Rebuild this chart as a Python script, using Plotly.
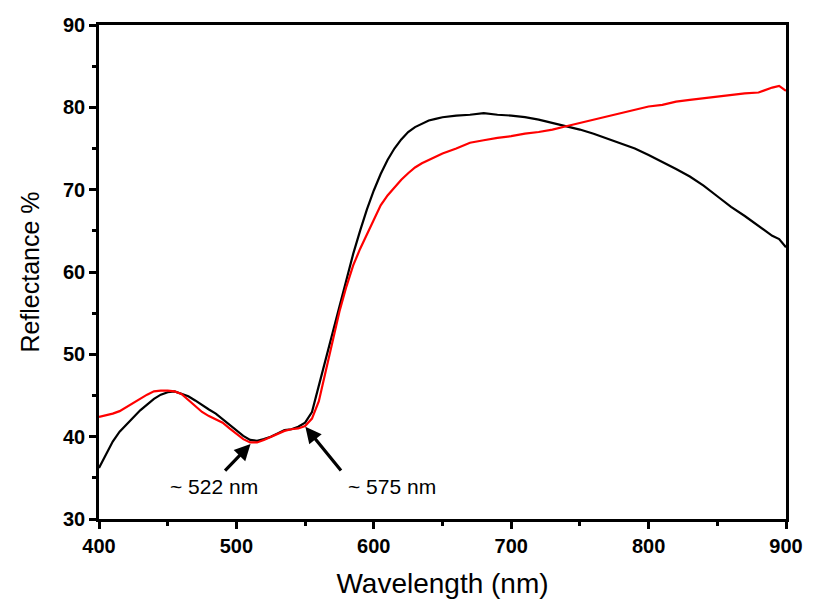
import plotly.graph_objects as go

# wavelength grid (nm) shared by both spectra
wavelength = [
    400, 405, 410, 415, 420, 425, 430, 435, 440, 445, 450, 455, 460, 465, 470,
    475, 480, 485, 490, 495, 500, 505, 510, 515, 520, 525, 530, 535, 540, 545,
    550, 555, 560, 565, 570, 575, 580, 585, 590, 595, 600, 605, 610, 615, 620,
    625, 630, 635, 640, 645, 650, 660, 670, 680, 690, 700, 710, 720, 730, 740,
    750, 760, 770, 780, 790, 800, 810, 820, 830, 840, 850, 860, 870, 880, 890,
    895, 900,
]

reflectance_black = [
    36.2, 37.9, 39.4, 40.6, 41.5, 42.4, 43.2, 43.9, 44.6, 45.1, 45.4, 45.5, 45.2, 44.9, 44.4,
    43.8, 43.3, 42.8, 42.1, 41.4, 40.7, 40.1, 39.6, 39.5, 39.7, 40.0, 40.4, 40.8, 40.9, 41.2,
    41.7, 43.0, 46.2, 49.5, 52.6, 55.8, 59.0, 62.2, 65.0, 67.6, 69.9, 71.9, 73.6, 75.0, 76.1,
    77.0, 77.6, 78.0, 78.4, 78.6, 78.8, 79.0, 79.1, 79.3, 79.1, 79.0, 78.8, 78.5, 78.1, 77.7,
    77.3, 76.8, 76.2, 75.6, 75.0, 74.2, 73.4, 72.5, 71.6, 70.5, 69.2, 67.9, 66.8, 65.6, 64.4,
    64.0, 63.0,
]

reflectance_red = [
    42.4, 42.6, 42.8, 43.1, 43.6, 44.1, 44.7, 45.1, 45.5, 45.6, 45.6, 45.5, 45.2, 44.5, 43.7,
    43.0, 42.5, 42.1, 41.7, 41.0, 40.3, 39.7, 39.3, 39.3, 39.6, 40.0, 40.4, 40.7, 40.9, 41.0,
    41.3, 42.2, 44.3, 47.9, 51.6, 55.2, 58.2, 60.8, 62.8, 64.6, 66.4, 68.1, 69.3, 70.3, 71.2,
    72.0, 72.7, 73.2, 73.6, 74.0, 74.4, 75.0, 75.7, 76.0, 76.3, 76.5, 76.8, 77.0, 77.3, 77.7,
    78.1, 78.5, 78.9, 79.3, 79.7, 80.1, 80.3, 80.7, 80.9, 81.1, 81.3, 81.5, 81.7, 81.8, 82.4,
    82.6, 82.0,
]

# arrow annotations: (label, head x, head y, tail x, tail y, label x, label y)
markers = [
    ("~ 522 nm", 510.3, 39.1, 490.7, 35.7, 483.5, 33.9),
    ("~ 575 nm", 550.2, 41.2, 577.0, 35.7, 613.0, 33.9),
]

FONT = "Liberation Sans, Arial"

fig = go.Figure()
fig.add_trace(
    go.Scatter(
        x=wavelength,
        y=reflectance_black,
        mode="lines",
        line=dict(color="black", width=2.2),
        showlegend=False,
    )
)
fig.add_trace(
    go.Scatter(
        x=wavelength,
        y=reflectance_red,
        mode="lines",
        line=dict(color="#ff0000", width=2.2),
        showlegend=False,
    )
)

annotations = []
for label, hx, hy, tx, ty, lx, ly in markers:
    annotations.append(
        dict(
            x=hx, y=hy, ax=tx, ay=ty,
            xref="x", yref="y", axref="x", ayref="y",
            text="", showarrow=True,
            arrowhead=2, arrowsize=1, arrowwidth=3.2, arrowcolor="black",
        )
    )
    annotations.append(
        dict(
            x=lx, y=ly, xref="x", yref="y",
            text=label, showarrow=False,
            font=dict(family=FONT, size=21, color="black"),
        )
    )

axis_common = dict(
    showline=True,
    linecolor="black",
    linewidth=2.5,
    mirror=True,
    showgrid=False,
    zeroline=False,
    automargin=False,
    ticks="outside",
    ticklen=7,
    tickwidth=2.5,
    tickcolor="black",
    tickfont=dict(family=FONT, size=20, color="black", weight="bold"),
)

fig.update_layout(
    width=823,
    height=612,
    margin=dict(l=91, r=45, t=17, b=101),
    plot_bgcolor="white",
    paper_bgcolor="white",
    annotations=annotations,
    xaxis=dict(
        axis_common,
        range=[400, 900],
        dtick=100,
        minor=dict(dtick=50, ticks="outside", ticklen=4, tickwidth=2.5, tickcolor="black"),
        title=dict(text="Wavelength (nm)", font=dict(family=FONT, size=28, color="black"), standoff=18),
    ),
    yaxis=dict(
        axis_common,
        range=[30, 90],
        dtick=10,
        minor=dict(dtick=5, ticks="outside", ticklen=4, tickwidth=2.5, tickcolor="black"),
        title=dict(text="Reflectance %", font=dict(family=FONT, size=25, color="black"), standoff=17),
    ),
)

fig.write_html("out.html")
